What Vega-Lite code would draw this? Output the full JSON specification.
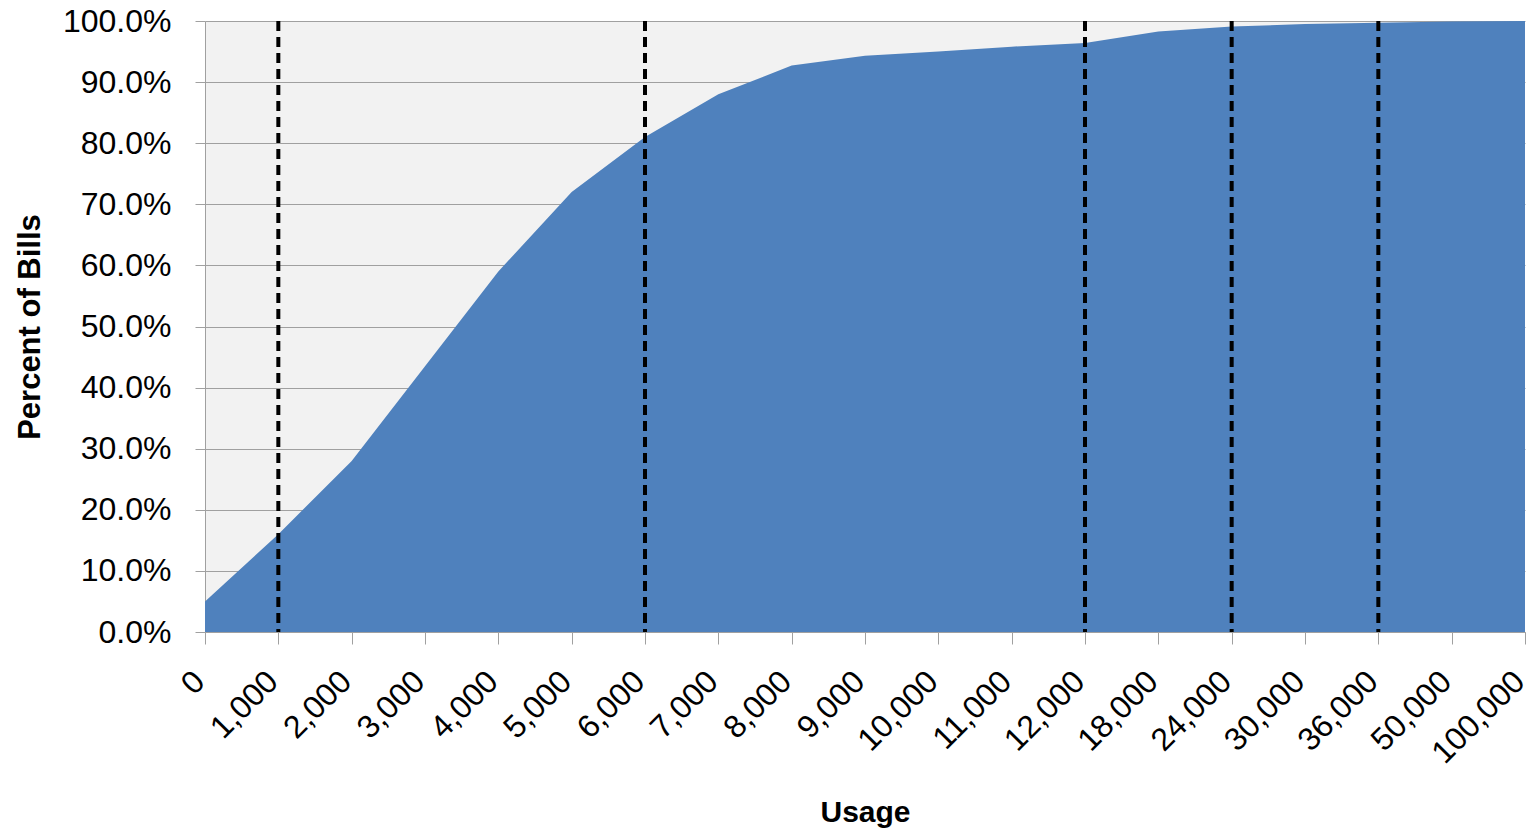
{
  "$schema": "https://vega.github.io/schema/vega-lite/v6.json",
  "width": 1320,
  "height": 611,
  "autosize": {"type": "none"},
  "padding": {"left": 205, "top": 21, "right": 10, "bottom": 204},
  "background": "white",
  "config": {
    "font": "Liberation Sans",
    "view": {"fill": "#F2F2F2", "stroke": null},
    "axis": {"labelFont": "Liberation Sans", "titleFont": "Liberation Sans", "labelColor": "#000000", "titleColor": "#000000"}
  },
  "datasets": {
    "cdf": [
      {"usage": "0", "pct": 0.05},
      {"usage": "1,000", "pct": 0.16},
      {"usage": "2,000", "pct": 0.28},
      {"usage": "3,000", "pct": 0.435},
      {"usage": "4,000", "pct": 0.59},
      {"usage": "5,000", "pct": 0.72},
      {"usage": "6,000", "pct": 0.81},
      {"usage": "7,000", "pct": 0.88},
      {"usage": "8,000", "pct": 0.927},
      {"usage": "9,000", "pct": 0.943},
      {"usage": "10,000", "pct": 0.95},
      {"usage": "11,000", "pct": 0.958},
      {"usage": "12,000", "pct": 0.964},
      {"usage": "18,000", "pct": 0.983},
      {"usage": "24,000", "pct": 0.991},
      {"usage": "30,000", "pct": 0.995},
      {"usage": "36,000", "pct": 0.997},
      {"usage": "50,000", "pct": 0.999},
      {"usage": "100,000", "pct": 1.0}
    ],
    "marks": [
      {"usage": "1,000"},
      {"usage": "6,000"},
      {"usage": "12,000"},
      {"usage": "24,000"},
      {"usage": "36,000"}
    ]
  },
  "layer": [
    {
      "data": {"name": "cdf"},
      "mark": {"type": "area", "color": "#4F81BD", "opacity": 1},
      "encoding": {
        "x": {
          "field": "usage",
          "type": "ordinal",
          "sort": null,
          "scale": {"type": "point", "padding": 0},
          "axis": {
            "title": "Usage",
            "titleFontSize": 30,
            "titleFontWeight": "bold",
            "titlePadding": 28,
            "labelFontSize": 32,
            "labelAngle": -45,
            "labelAlign": "right",
            "labelBaseline": "middle",
            "labelPadding": 32,
            "labelOffset": -6,
            "tickSize": 12,
            "tickColor": "#A0A0A0",
            "domainColor": "#A0A0A0",
            "grid": false
          }
        },
        "y": {
          "field": "pct",
          "type": "quantitative",
          "scale": {"domain": [0, 1], "nice": false},
          "axis": {
            "title": "Percent of Bills",
            "titleFontSize": 31,
            "titleFontWeight": "bold",
            "titlePadding": 16,
            "format": ".1%",
            "values": [0, 0.1, 0.2, 0.3, 0.4, 0.5, 0.6, 0.7, 0.8, 0.9, 1.0],
            "labelFontSize": 32,
            "labelPadding": 24,
            "tickSize": 10,
            "tickColor": "#A0A0A0",
            "domainColor": "#A0A0A0",
            "grid": true,
            "gridColor": "#A0A0A0",
            "gridWidth": 1.2
          }
        }
      }
    },
    {
      "data": {"name": "marks"},
      "mark": {"type": "rule", "color": "#000000", "strokeWidth": 4, "strokeDash": [10, 6]},
      "encoding": {
        "x": {"field": "usage", "type": "ordinal", "sort": null}
      }
    }
  ]
}
